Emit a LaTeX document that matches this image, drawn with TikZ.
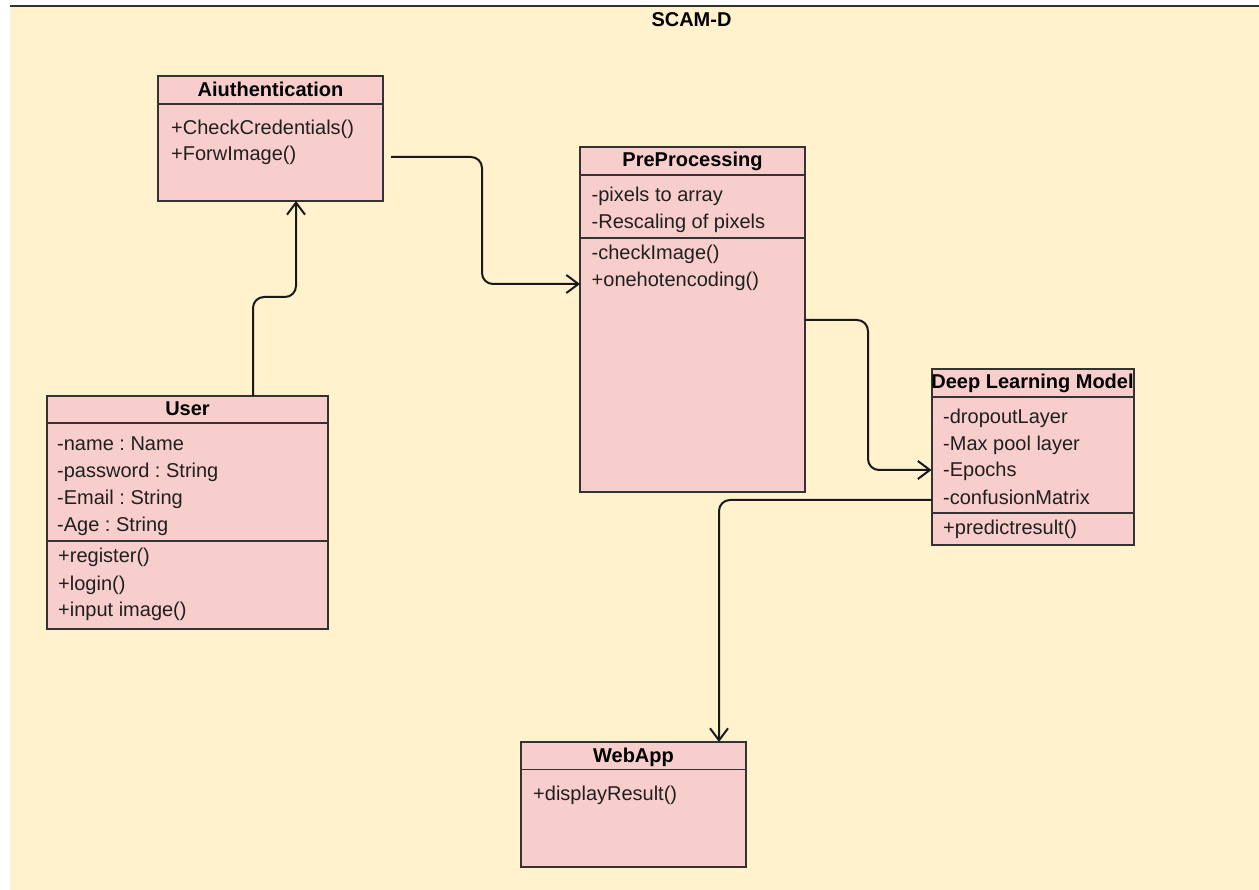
\documentclass[tikz,border=0pt]{standalone}
\usepackage{fontspec}
\setmainfont{Liberation Sans}
\usetikzlibrary{arrows.meta,calc}
\definecolor{canvas}{HTML}{FFF2CC}
\definecolor{classfill}{HTML}{F8CECC}
\definecolor{edge}{HTML}{333333}
\frenchspacing
\begin{document}
\begin{tikzpicture}[x=1pt,y=-1pt,
  classbox/.style={draw=edge,fill=classfill,line width=2pt,rectangle,inner sep=0pt,outer sep=0pt,anchor=north west},
  divider/.style={draw=edge,line width=1.8pt},
  classname/.style={anchor=base,inner sep=0pt,font=\fontsize{20}{24}\selectfont\bfseries},
  member/.style={anchor=base west,inner sep=0pt,font=\fontsize{20}{24}\selectfont,text=black!88},
  link/.style={draw=black!90,line width=2pt,rounded corners=11pt},
  opentip/.style={-{Straight Barb[length=12pt,width=18pt]}}
]
\useasboundingbox (0,0) rectangle (1259,890);
% page background and frame edge
\fill[white] (0,0) rectangle (1259,890);
\fill[canvas] (10,6) rectangle (1259,890);
\draw[edge,line width=1.4pt] (10,6) -- (1259,6);
\node[classname] (title) at (691.5,27) {SCAM-D};

% Aiuthentication
\node[classbox,minimum width=225pt,minimum height=125pt] (auth) at (158,76) {};
\draw[divider] ([yshift=-28pt]auth.north west) -- ([yshift=-28pt]auth.north east);
\node[classname] (authname) at (270.5,96.5) {Aiuthentication};
\node[member] (auth1) at (171,134.3) {+CheckCredentials()};
\node[member] (auth2) at (171,161) {+ForwImage()};

% PreProcessing
\node[classbox,minimum width=225pt,minimum height=344.5pt] (pre) at (580,147.5) {};
\draw[divider] ([yshift=-27.5pt]pre.north west) -- ([yshift=-27.5pt]pre.north east);
\draw[divider] ([yshift=-90.2pt]pre.north west) -- ([yshift=-90.2pt]pre.north east);
\node[classname] (prename) at (692.5,167) {PreProcessing};
\node[member] (pre1) at (591.5,202) {-pixels to array};
\node[member] (pre2) at (591.5,228.7) {-Rescaling of pixels};
\node[member] (pre3) at (591.5,259.5) {-checkImage()};
\node[member] (pre4) at (591.5,286.5) {+onehotencoding()};

% Deep Learning Model
\node[classbox,minimum width=202pt,minimum height=176pt] (dlm) at (931.5,369) {};
\draw[divider] ([yshift=-28pt]dlm.north west) -- ([yshift=-28pt]dlm.north east);
\draw[divider] ([yshift=-144pt]dlm.north west) -- ([yshift=-144pt]dlm.north east);
\node[classname] (dlmname) at (1032.5,388.5) {Deep Learning Model};
\node[member] (dlm1) at (943,423.5) {-dropoutLayer};
\node[member] (dlm2) at (943,450.5) {-Max pool layer};
\node[member] (dlm3) at (943,477) {-Epochs};
\node[member] (dlm4) at (943,504) {-confusionMatrix};
\node[member] (dlm5) at (943,534.5) {+predictresult()};

% User
\node[classbox,minimum width=281pt,minimum height=232.5pt] (user) at (47,396) {};
\draw[divider] ([yshift=-27pt]user.north west) -- ([yshift=-27pt]user.north east);
\draw[divider] ([yshift=-145pt]user.north west) -- ([yshift=-145pt]user.north east);
\node[classname] (username) at (187.5,415.5) {User};
\node[member] (user1) at (57,451) {-name : Name};
\node[member] (user2) at (57,477.5) {-password : String};
\node[member] (user3) at (57,504) {-Email : String};
\node[member] (user4) at (57,531) {-Age : String};
\node[member] (user5) at (58,562) {+register()};
\node[member] (user6) at (58,590) {+login()};
\node[member] (user7) at (58,616) {+input image()};

% WebApp
\node[classbox,minimum width=225pt,minimum height=125pt] (web) at (521,742) {};
\draw[divider] ([yshift=-27.5pt]web.north west) -- ([yshift=-27.5pt]web.north east);
\node[classname] (webname) at (633.5,762) {WebApp};
\node[member] (web1) at (533,800.5) {+displayResult()};

% associations
\draw[link,opentip] ($(user.north west)+(206,0)$) -- (253,297) -- (296,297) -- ($(auth.south west)+(138,0)$);
\draw[link,opentip] ($(auth.north east)+(8,81)$) -- (482,157) -- (482,284) -- ($(pre.north west)+(0,136.5)$);
\draw[link,opentip] ($(pre.north east)+(0,172.5)$) -- (868,320) -- (868,470) -- ($(dlm.north west)+(0,101)$);
\draw[link,opentip] ($(dlm.north west)+(0,131)$) -- (719,500) -- ($(web.north west)+(198,0)$);
\end{tikzpicture}
\end{document}
